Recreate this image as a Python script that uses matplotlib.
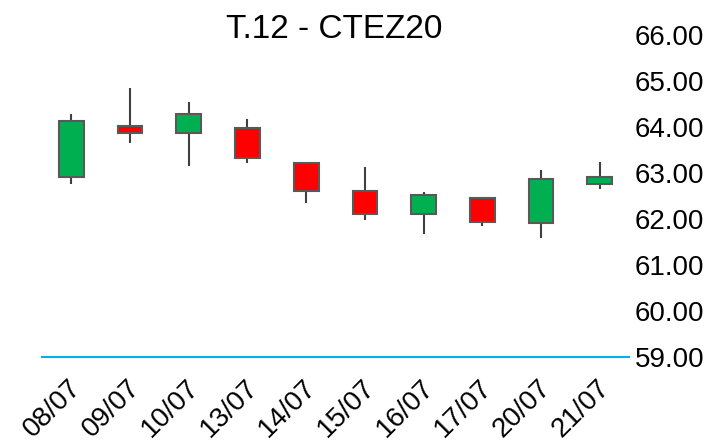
import numpy as np
import matplotlib.pyplot as plt
import matplotlib.transforms as mtrans

plt.rcParams['font.family'] = ['Liberation Sans', 'DejaVu Sans']

# Dados dos candles
dates = ['08/07', '09/07', '10/07', '13/07', '14/07', '15/07', '16/07', '17/07', '20/07', '21/07']
opens = [62.91, 64.03, 63.87, 63.98, 63.22, 62.61, 62.11, 62.46, 61.92, 62.77]
closes = [64.14, 63.87, 64.29, 63.33, 62.61, 62.11, 62.53, 61.93, 62.88, 62.91]
highs = [64.28, 64.86, 64.55, 64.17, 63.22, 63.14, 62.59, 62.48, 63.07, 63.25]
lows = [62.77, 63.65, 63.15, 63.22, 62.34, 61.99, 61.67, 61.85, 61.58, 62.65]
yticks = [59, 60, 61, 62, 63, 64, 65, 66]

opens = np.array(opens)
closes = np.array(closes)
x = np.arange(len(dates))

fig = plt.figure(figsize=(7.06, 4.41), dpi=100)
ax = fig.add_axes([0.0595, 0.1905, 0.8315, 0.7295])

# Pavios
ax.vlines(x, lows, highs, color='#404040', linewidth=1.5, zorder=1)

# Corpos
up = closes >= opens
cores = np.where(up, '#00B050', '#FF0000')
ax.bar(x, np.abs(closes - opens), bottom=np.minimum(opens, closes), width=0.42,
       color=cores, edgecolor='#595959', linewidth=1.5, zorder=2)

ax.set_xlim(-0.5, len(dates) - 0.5)
ax.set_ylim(59, 66)
ax.set_yticks(yticks)
ax.set_yticklabels([f'{v:.2f}' for v in yticks])
ax.yaxis.tick_right()
ax.tick_params(axis='y', length=0, pad=4, labelsize=20)

ax.set_xticks(x)
ax.set_xticklabels(dates, rotation=45, ha='right', rotation_mode='anchor', fontsize=20)
ax.tick_params(axis='x', length=0, pad=13)
desloc = mtrans.ScaledTranslation(-3 / 100, 0, fig.dpi_scale_trans)
for lbl in ax.get_xticklabels():
    lbl.set_transform(lbl.get_transform() + desloc)

for s in ['top', 'left', 'right']:
    ax.spines[s].set_visible(False)
ax.spines['bottom'].set_color('#00B0F0')
ax.spines['bottom'].set_linewidth(1.5)

# Título
fig.text(0.4738, 0.9138, 'T.12 - CTEZ20', fontsize=24, ha='center', va='baseline')

fig.savefig('out.png', dpi=100)
